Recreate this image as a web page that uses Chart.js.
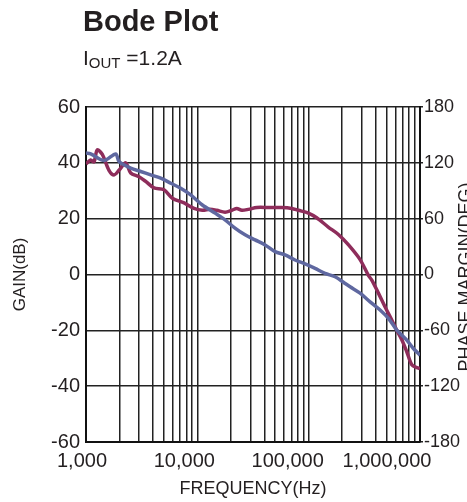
<!DOCTYPE html>
<html>
<head>
<meta charset="utf-8">
<title>Bode Plot</title>
<script src="https://cdn.jsdelivr.net/npm/chart.js@4.4.1/dist/chart.umd.min.js"></script>
<style>
  html, body { margin: 0; padding: 0; background: #fff; overflow: hidden; }
  #wrap { position: relative; width: 467px; height: 502px; }
  #wrap canvas { position: absolute; left: 0; top: 0; }
  .txt { position: absolute; font-family: "Liberation Sans", Arial, sans-serif; color: #231f20; white-space: nowrap; line-height: 1; }
  #title { left: 83px; top: 7px; font-size: 29px; font-weight: bold; }
  #sub { left: 83px; top: 47px; font-size: 21px; }
  #sub sub { font-size: 15px; vertical-align: -3px; line-height: 1; }
  #phaseTitle { left: 315px; top: 268px; width: 300px; height: 18px; font-size: 18px; line-height: 18px; text-align: center; transform: rotate(-90deg); }
</style>
</head>
<body>
<div id="wrap">
  <canvas id="bode"></canvas>
  <div class="txt" id="title">Bode Plot</div>
  <div class="txt" id="sub">I<sub>OUT</sub> =1.2A</div>
  <div class="txt" id="phaseTitle">PHASE MARGIN(DEG)</div>
</div>
<script>
// gain curve (blue), dB
const gainFreq = [1000, 1102, 1451, 1849, 1979, 2520, 3100, 3813, 4690, 5770, 7090, 8720,
  11090, 14420, 17740, 21800, 26830, 33000, 40600, 49900, 61400, 75500, 92800,
  114200, 140400, 172700, 212300, 235500, 289600, 356200, 438000, 520000, 619000,
  761000, 872000, 1000000];
const gainDb = [43.5, 43.2, 40.8, 43.2, 40.5, 38.1, 36.9, 35.7, 34.5, 32.7, 30.9, 28.5,
  24.9, 22.0, 19.6, 16.6, 14.2, 12.4, 10.6, 8.2, 7.0, 5.2, 3.8,
  2.2, 0.4, -0.8, -3.2, -4.4, -6.7, -9.8, -12.7, -15.7, -19.9,
  -23.5, -26.5, -28.9];

// phase margin curve (maroon), degrees
const phaseFreq = [1000, 1102, 1180, 1263, 1401, 1609, 1785, 1979, 2274, 2520, 2995, 3440,
  4080, 5020, 5960, 7600, 9340, 11090, 13000, 14940, 17740, 20400, 22600, 25100,
  28700, 34200, 43400, 57300, 70500, 80800, 99400, 118000, 150000, 185000, 227000,
  289600, 344000, 369000, 423000, 486000, 558000, 619000, 686000, 761000, 844000,
  936000, 1000000];
const phaseDeg = [119, 123, 121, 134, 129, 112, 107, 112, 120, 109, 105, 100,
  93, 91, 82, 77, 71, 69, 70, 69, 67, 69, 71, 69,
  70, 72, 72, 72, 71, 69, 66, 61, 51, 43, 32,
  16, -1, -6, -20, -35, -49, -60, -70, -83, -97,
  -100, -101];

const decades = [1000, 10000, 100000, 1000000];
const gainTicks = [-60, -40, -20, 0, 20, 40, 60];
const phaseTicks = [-180, -120, -60, 0, 60, 120, 180];

// x labels in the original sit a little left of their grid line
const labelNudge = { '1,000': -4, '10,000': -13, '100,000': -21, '1,000,000': -33 };

const font = 'Liberation Sans, Arial, sans-serif';
const ink = '#231f20';

const toPoints = (xs, ys) => xs.map((x, i) => ({ x: x, y: ys[i] }));

const nudgeLabels = {
  id: 'nudgeLabels',
  beforeDraw(chart) {
    chart.scales.x.getLabelItems().forEach(it => {
      const d = labelNudge[it.label];
      if (d && !it._nudged) {
        it.options.translation[0] += d;
        it._nudged = true;
      }
    });
  }
};

const ctx = document.getElementById('bode').getContext('2d');
const bode = new Chart(ctx, {
  type: 'line',
  data: {
    datasets: [{
      label: 'Gain',
      data: toPoints(gainFreq, gainDb),
      yAxisID: 'y',
      borderColor: '#5f68a0',
      borderWidth: 3.5,
      pointRadius: 0,
      tension: 0.3,
      fill: false
    }, {
      label: 'Phase margin',
      data: toPoints(phaseFreq, phaseDeg),
      yAxisID: 'y2',
      borderColor: '#8e2d5b',
      borderWidth: 3.5,
      pointRadius: 0,
      tension: 0.3,
      fill: false
    }]
  },
  options: {
    responsive: true,
    maintainAspectRatio: false,
    animation: false,
    layout: { padding: { top: 107, left: 0, right: 0, bottom: 0 } },
    plugins: {
      legend: { display: false },
      tooltip: { enabled: false }
    },
    scales: {
      x: {
        type: 'logarithmic',
        min: 1000,
        max: 1000000,
        afterFit: s => {
          s.height = 60;
          s.paddingLeft = 0;
          s.paddingRight = 0;
        },
        afterBuildTicks: s => {
          const t = [];
          decades.forEach(d => {
            for (let k = 1; k <= 9; k++) {
              if (d * k <= 1000000) t.push({ value: d * k });
            }
          });
          s.ticks = t;
        },
        grid: { color: '#222', lineWidth: 1.5, drawTicks: false },
        border: { color: '#111', width: 2 },
        ticks: {
          autoSkip: false,
          maxRotation: 0,
          padding: 7,
          color: ink,
          font: { family: font, size: 20 },
          callback: v => decades.includes(v) ? v.toLocaleString('en-US') : ''
        },
        title: {
          display: true,
          text: 'FREQUENCY(Hz)',
          color: ink,
          font: { family: font, size: 18 },
          padding: { top: 0, bottom: 2 }
        }
      },
      y: {
        position: 'left',
        min: -60,
        max: 60,
        afterFit: s => { s.width = 86; },
        afterBuildTicks: s => { s.ticks = gainTicks.map(v => ({ value: v })); },
        grid: { color: '#222', lineWidth: 1.5, drawTicks: false },
        border: { color: '#111', width: 2 },
        ticks: { padding: 6, color: ink, font: { family: font, size: 20 } },
        title: {
          display: true,
          text: 'GAIN(dB)',
          color: ink,
          font: { family: font, size: 17 },
          padding: { top: 10, bottom: 0 }
        }
      },
      y2: {
        position: 'right',
        min: -180,
        max: 180,
        afterFit: s => { s.width = 47; },
        afterBuildTicks: s => { s.ticks = phaseTicks.map(v => ({ value: v })); },
        grid: { drawOnChartArea: false, color: '#222', lineWidth: 1.5, tickLength: 3 },
        border: { color: '#111', width: 2 },
        ticks: { padding: 1, color: ink, font: { family: font, size: 18 } }
      }
    }
  },
  plugins: [nudgeLabels]
});
</script>
</body>
</html>
